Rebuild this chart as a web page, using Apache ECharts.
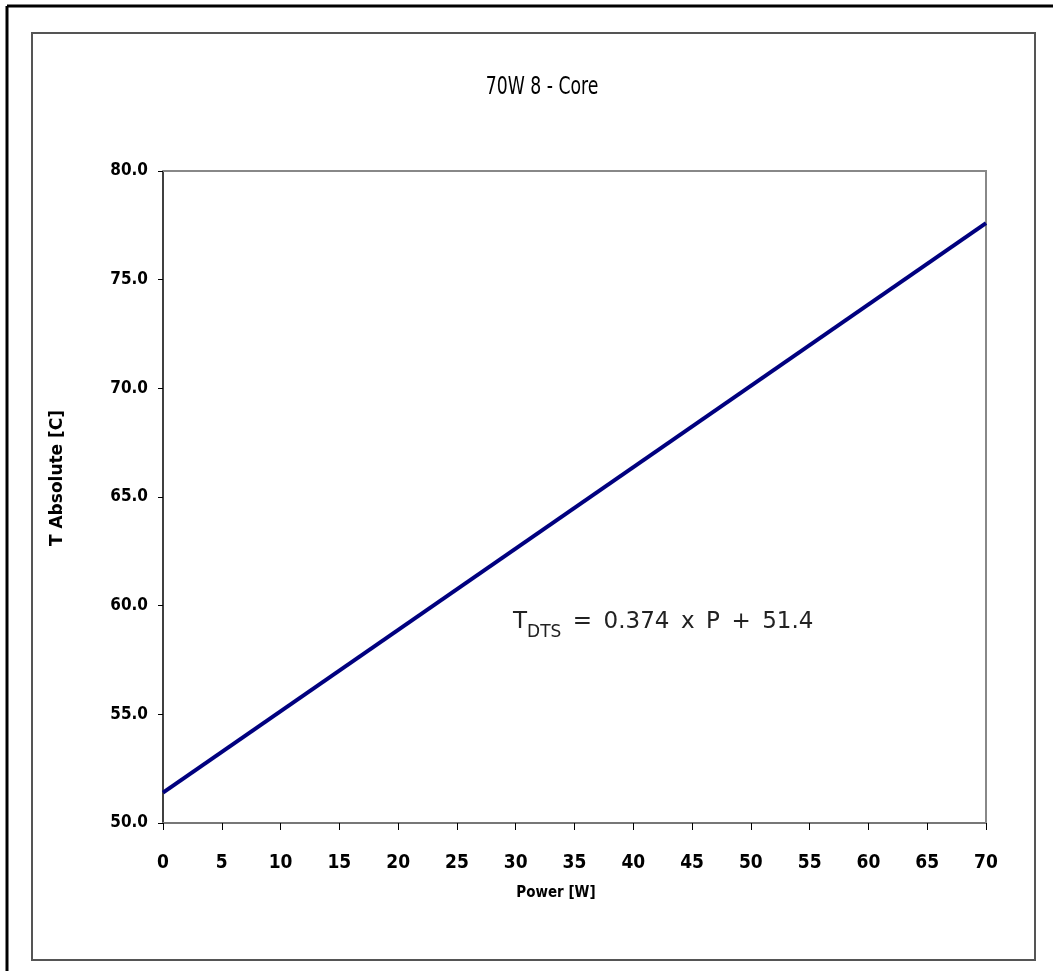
<!DOCTYPE html>
<html>
<head>
<meta charset="utf-8">
<script src="https://cdn.jsdelivr.net/npm/echarts@6/dist/echarts.min.js"></script>
<style>
  html, body { margin: 0; padding: 0; background: #fff; }
  #chart { width: 1053px; height: 971px; }
</style>
</head>
<body>
<div id="chart"></div>
<script>
// data
var powerW = [0, 70];
var tempC = [51.4, 77.6];
var xTicks = { min: 0, max: 70, step: 5 };
var yTicks = { min: 50, max: 80, step: 5 };

var points = powerW.map(function (p, i) { return [p, tempC[i]]; });

var chart = echarts.init(document.getElementById('chart'));
var narrow = '"Liberation Sans Narrow", "Arial Narrow", "DejaVu Sans Condensed", "Liberation Sans", Arial, sans-serif';

var option = {
  animation: false,
  grid: { left: 163, top: 171, width: 823, height: 652, show: false },
  xAxis: {
    type: 'value',
    min: xTicks.min, max: xTicks.max, interval: xTicks.step,
    axisLine: { show: true, lineStyle: { color: '#777', width: 2 } },
    axisTick: { show: true, length: 7, lineStyle: { color: '#000', width: 1 } },
    axisLabel: { margin: 31, fontFamily: narrow, fontSize: 19, fontWeight: 'bold', color: '#000' },
    splitLine: { show: false }
  },
  yAxis: {
    type: 'value',
    min: yTicks.min, max: yTicks.max, interval: yTicks.step,
    axisLine: { show: true, lineStyle: { color: '#000', width: 1.5 } },
    axisTick: { show: true, length: 5, lineStyle: { color: '#000', width: 1 } },
    axisLabel: {
      margin: 15, fontFamily: narrow, fontSize: 17, fontWeight: 'bold', color: '#000',
      formatter: function (v) { return v.toFixed(1); }
    },
    splitLine: { show: false }
  },
  series: [{
    type: 'line',
    data: points,
    showSymbol: false,
    lineStyle: { color: '#00007F', width: 4 },
    z: 3
  }],
  graphic: [
    // outer frame (left and top only visible)
    { type: 'line', shape: { x1: 7, y1: 6, x2: 1053, y2: 6 }, style: { stroke: '#000', lineWidth: 3 } },
    { type: 'line', shape: { x1: 7, y1: 6, x2: 7, y2: 971 }, style: { stroke: '#000', lineWidth: 3 } },
    // inner frame
    { type: 'rect', shape: { x: 32, y: 33, width: 1003, height: 927 },
      style: { fill: 'none', stroke: '#555', lineWidth: 2 } },
    // plot top and right border
    { type: 'polyline', shape: { points: [[163, 171], [986, 171], [986, 823]] },
      style: { fill: 'none', stroke: '#888', lineWidth: 2 }, z: 1 },
    // title, squeezed like the narrow font of the original
    {
      type: 'text', x: 542, y: 88, scaleX: 0.8, z: 10,
      style: { text: '70W 8 - Core', font: 'normal 24px ' + narrow, fill: '#000', align: 'center', verticalAlign: 'middle' }
    },
    // axis names
    {
      type: 'text', x: 556, y: 893, z: 10,
      style: { text: 'Power [W]', font: 'bold 15px ' + narrow, fill: '#000', align: 'center', verticalAlign: 'middle' }
    },
    {
      type: 'text', x: 58, y: 478, rotation: Math.PI / 2, z: 10,
      style: { text: 'T Absolute [C]', font: 'bold 17px "DejaVu Sans", sans-serif', fill: '#000', align: 'center', verticalAlign: 'middle' }
    },
    // regression equation
    {
      type: 'text', left: 513, top: 611, z: 10,
      style: {
        text: '{a|T}{s|DTS}{a|\u2002=\u20020.374\u2002x\u2002P\u2002+\u200251.4}',
        rich: {
          a: { fontFamily: '"DejaVu Sans", sans-serif', fontSize: 23, fill: '#222', verticalAlign: 'bottom', lineHeight: 32 },
          s: { fontFamily: '"DejaVu Sans", sans-serif', fontSize: 17, fill: '#222', verticalAlign: 'bottom', lineHeight: 32, padding: [0, 0, -7, 0] }
        }
      }
    }
  ]
};
chart.setOption(option);
</script>
</body>
</html>
